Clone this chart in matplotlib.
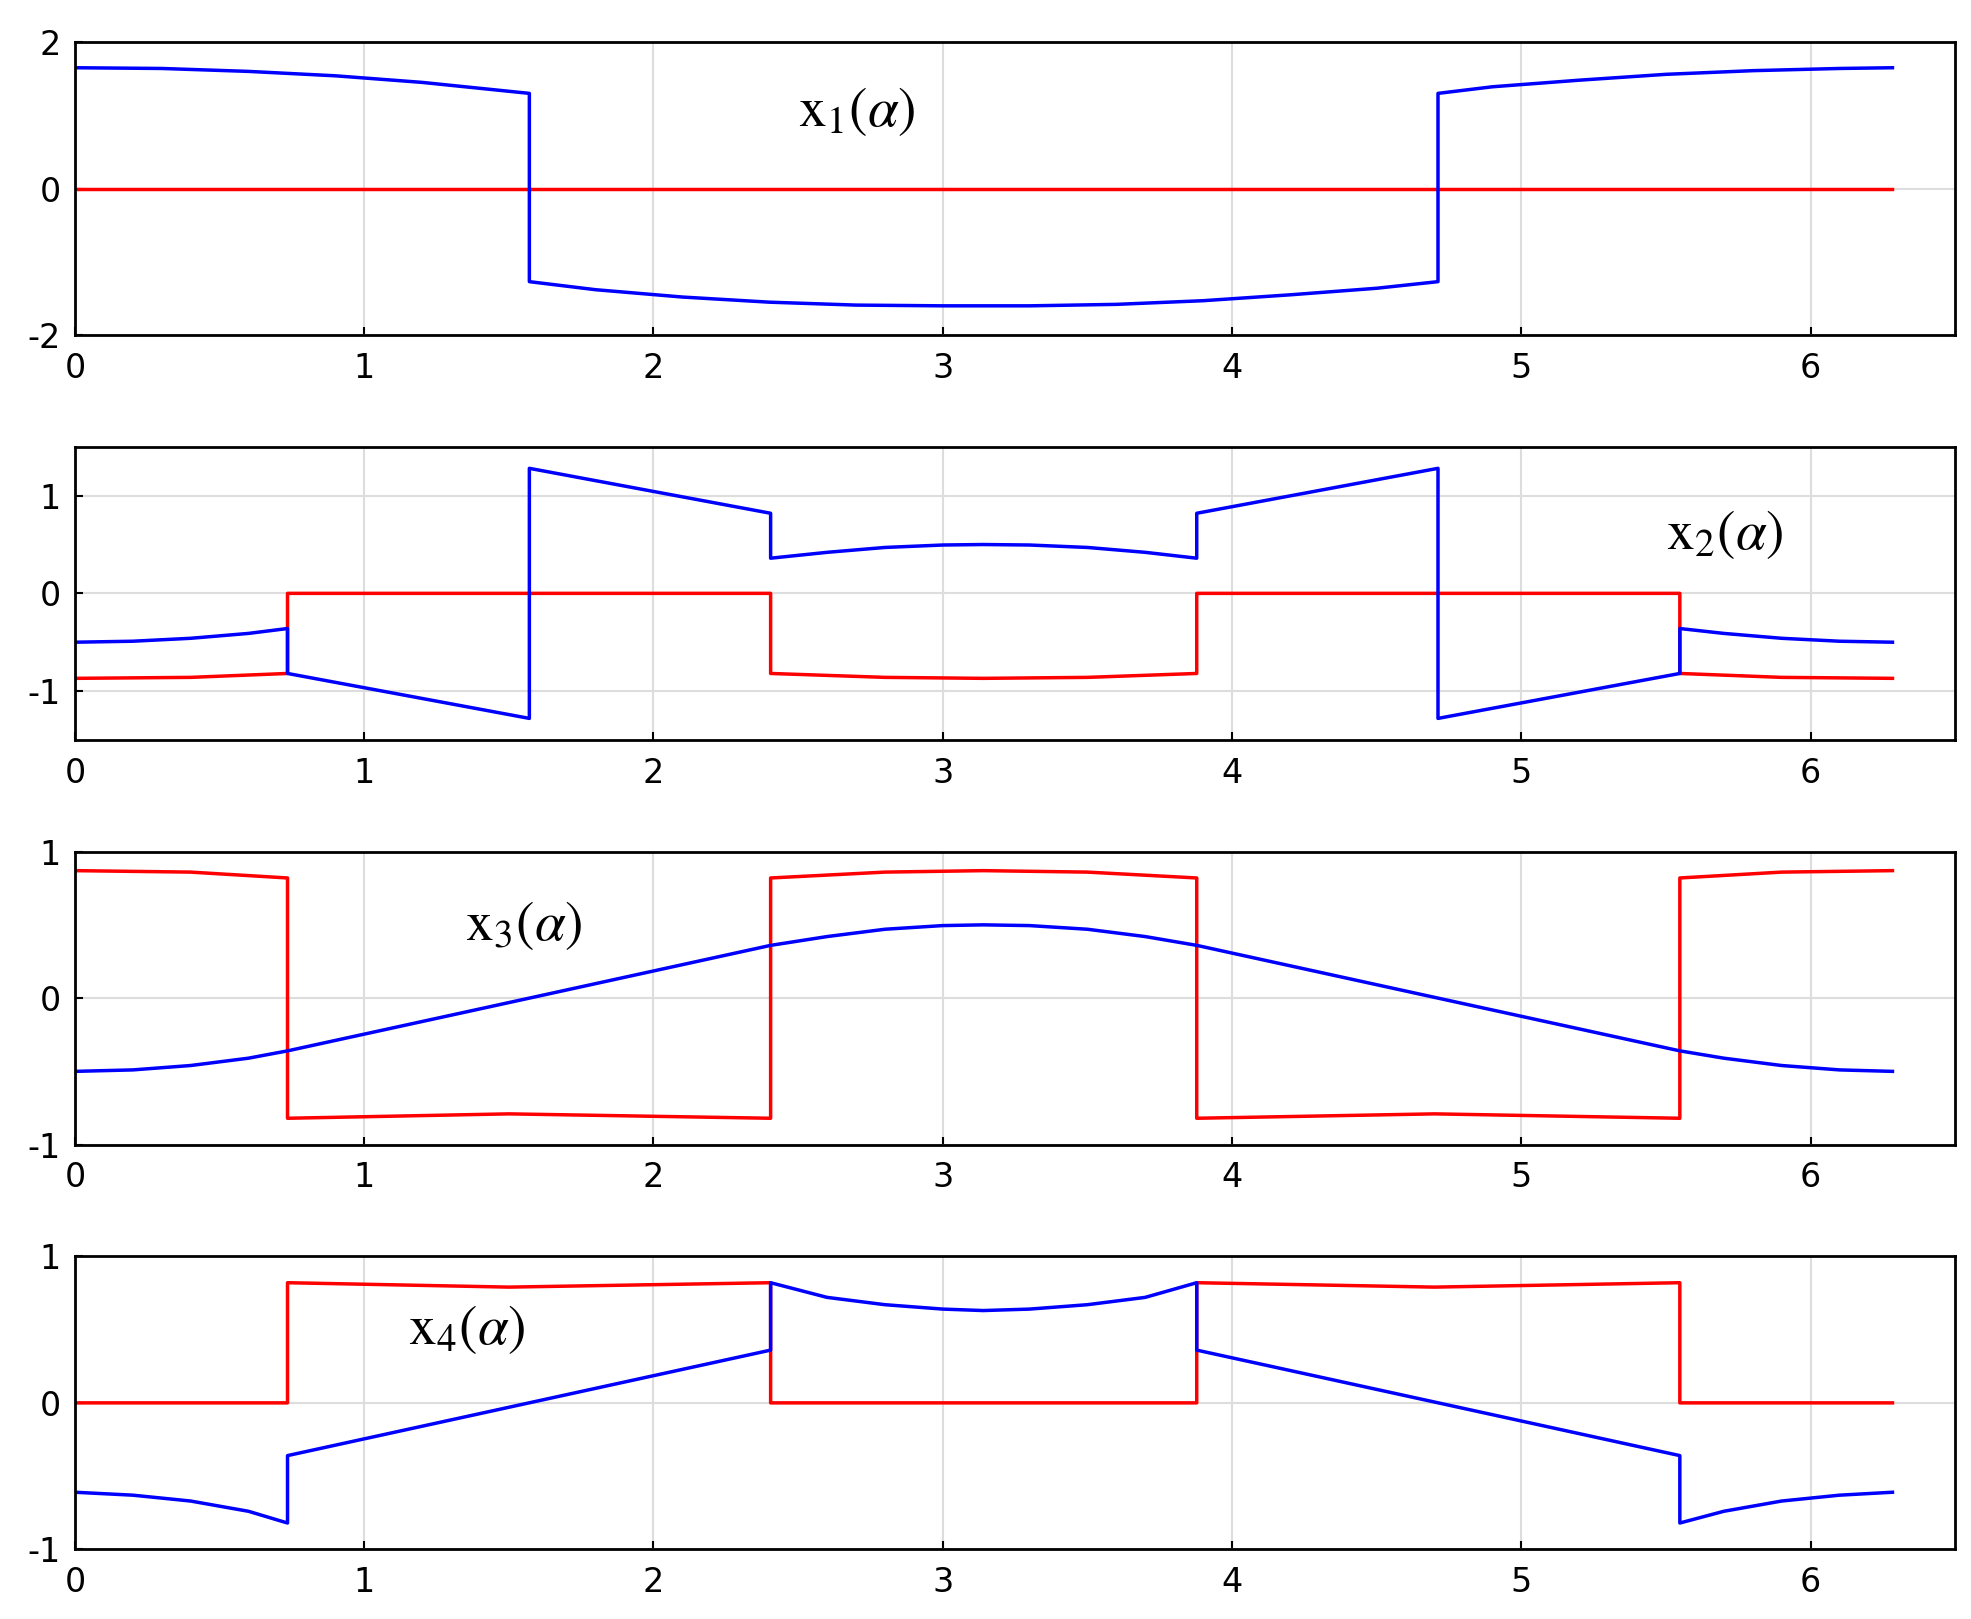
import matplotlib
matplotlib.use("Agg")
import matplotlib.pyplot as plt

p1_bx = [0, 0.3, 0.6, 0.9, 1.2, 1.571, 1.571, 1.8, 2.1, 2.4, 2.7, 3.0, 3.14, 3.3, 3.6, 3.9, 4.2, 4.5, 4.712, 4.712, 4.9, 5.2, 5.5, 5.8, 6.1, 6.283]
p1_by = [1.65, 1.64, 1.6, 1.54, 1.45, 1.3, -1.27, -1.38, -1.48, -1.55, -1.59, -1.6, -1.6, -1.6, -1.58, -1.53, -1.45, -1.36, -1.27, 1.3, 1.39, 1.48, 1.56, 1.61, 1.64, 1.65]
p1_rx = [0, 6.283]
p1_ry = [0, 0]

p2_bx = [0, 0.2, 0.4, 0.6, 0.735, 0.735, 1.571, 1.571, 2.405, 2.405, 2.6, 2.8, 3.0, 3.14, 3.3, 3.5, 3.7, 3.878, 3.878, 4.712, 4.712, 5.548, 5.548, 5.7, 5.9, 6.1, 6.283]
p2_by = [-0.5, -0.49, -0.46, -0.41, -0.36, -0.82, -1.28, 1.28, 0.82, 0.36, 0.42, 0.47, 0.495, 0.5, 0.495, 0.47, 0.42, 0.36, 0.82, 1.28, -1.28, -0.82, -0.36, -0.41, -0.46, -0.49, -0.5]
p2_rx = [0, 0.4, 0.735, 0.735, 2.405, 2.405, 2.8, 3.14, 3.5, 3.878, 3.878, 5.548, 5.548, 5.9, 6.283]
p2_ry = [-0.87, -0.86, -0.82, 0, 0, -0.82, -0.86, -0.87, -0.86, -0.82, 0, 0, -0.82, -0.86, -0.87]

p3_rx = [0, 0.4, 0.735, 0.735, 1.5, 2.405, 2.405, 2.8, 3.14, 3.5, 3.878, 3.878, 4.7, 5.548, 5.548, 5.9, 6.283]
p3_ry = [0.87, 0.86, 0.82, -0.82, -0.79, -0.82, 0.82, 0.86, 0.87, 0.86, 0.82, -0.82, -0.79, -0.82, 0.82, 0.86, 0.87]
p3_bx = [0, 0.2, 0.4, 0.6, 0.735, 1.571, 2.405, 2.6, 2.8, 3.0, 3.14, 3.3, 3.5, 3.7, 3.878, 4.712, 5.548, 5.7, 5.9, 6.1, 6.283]
p3_by = [-0.5, -0.49, -0.46, -0.41, -0.36, 0, 0.36, 0.42, 0.47, 0.495, 0.5, 0.495, 0.47, 0.42, 0.36, 0, -0.36, -0.41, -0.46, -0.49, -0.5]

p4_rx = [0, 0.735, 0.735, 1.5, 2.405, 2.405, 3.878, 3.878, 4.7, 5.548, 5.548, 6.283]
p4_ry = [0, 0, 0.82, 0.79, 0.82, 0, 0, 0.82, 0.79, 0.82, 0, 0]
p4_bx = [0, 0.2, 0.4, 0.6, 0.735, 0.735, 2.405, 2.405, 2.6, 2.8, 3.0, 3.14, 3.3, 3.5, 3.7, 3.878, 3.878, 5.548, 5.548, 5.7, 5.9, 6.1, 6.283]
p4_by = [-0.61, -0.63, -0.67, -0.74, -0.82, -0.36, 0.36, 0.82, 0.72, 0.67, 0.64, 0.63, 0.64, 0.67, 0.72, 0.82, 0.36, -0.36, -0.82, -0.74, -0.67, -0.63, -0.61]

panels = [
    (p1_bx, p1_by, p1_rx, p1_ry, (-2, 2), [-2, 0, 2], r"x$_1$($\alpha$)", (2.5, 0.85)),
    (p2_bx, p2_by, p2_rx, p2_ry, (-1.5, 1.5), [-1, 0, 1], r"x$_2$($\alpha$)", (5.5, 0.45)),
    (p3_bx, p3_by, p3_rx, p3_ry, (-1, 1), [-1, 0, 1], r"x$_3$($\alpha$)", (1.35, 0.4)),
    (p4_bx, p4_by, p4_rx, p4_ry, (-1, 1), [-1, 0, 1], r"x$_4$($\alpha$)", (1.15, 0.4)),
]
bottoms = [0.793, 0.543, 0.293, 0.043]
plt.rcParams['mathtext.fontset'] = 'stix'
plt.rcParams['axes.unicode_minus'] = False
fig = plt.figure(figsize=(19.71, 16.19), dpi=100)
for (bx, by, rx, ry, yl, yt, lab, pos), b in zip(panels, bottoms):
    ax = fig.add_axes([0.038, b, 0.954, 0.181])
    ax.plot(rx, ry, color='red', lw=2.5)
    ax.plot(bx, by, color='blue', lw=2.5)
    ax.set_xlim(0, 6.5)
    ax.set_ylim(*yl)
    ax.set_xticks(range(7))
    ax.set_yticks(yt)
    ax.grid(True, color='#dddddd', lw=1.5)
    ax.set_axisbelow(True)
    ax.tick_params(labelsize=24, direction='in', length=6, width=1.5)
    ax.tick_params(axis='x', pad=12)
    ax.tick_params(axis='y', pad=10)
    for s in ax.spines.values():
        s.set_linewidth(2)
    ax.text(pos[0], pos[1], lab, fontsize=40, family='STIXGeneral')
fig.savefig("out.png", dpi=100)
